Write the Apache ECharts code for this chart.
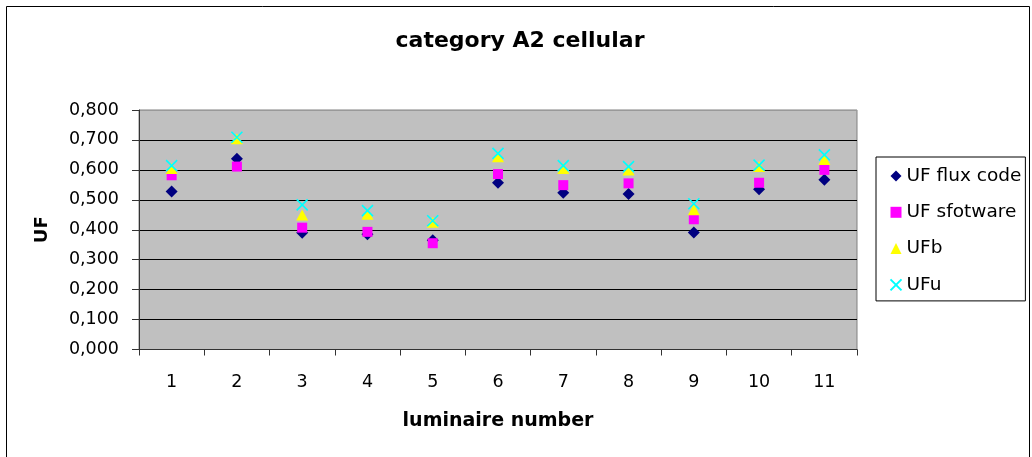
<!DOCTYPE html>
<html>
<head>
<meta charset="utf-8">
<script src="https://cdn.jsdelivr.net/npm/echarts@6/dist/echarts.min.js"></script>
<style>
  html, body { margin: 0; padding: 0; background: #fff; }
  #chart { width: 1032px; height: 457px; }
</style>
</head>
<body>
<div id="chart"></div>
<script>
// Luminaire numbers on the category axis
const luminaires = ['1', '2', '3', '4', '5', '6', '7', '8', '9', '10', '11'];

// Utilisation factor per luminaire, one list per method
const ufFluxCode = [0.528, 0.637, 0.390, 0.385, 0.365, 0.557, 0.524, 0.519, 0.391, 0.535, 0.567];
const ufSoftware = [0.582, 0.611, 0.407, 0.393, 0.355, 0.586, 0.549, 0.555, 0.435, 0.557, 0.600];
const ufB        = [0.605, 0.704, 0.449, 0.452, 0.425, 0.644, 0.605, 0.600, 0.467, 0.611, 0.635];
const ufU        = [0.614, 0.709, 0.483, 0.464, 0.430, 0.655, 0.614, 0.611, 0.487, 0.616, 0.650];

const seriesNames = ['UF flux code', 'UF sfotware', 'UFb', 'UFu'];

// Value axis range and step
const yMin = 0, yMax = 0.8, yStep = 0.1;

const FONT = 'DejaVu Sans';
const chart = echarts.init(document.getElementById('chart'), null, { renderer: 'canvas' });

const crossPath = 'path://M0,0L10,10M10,0L0,10';

chart.setOption({
  animation: false,
  backgroundColor: '#ffffff',
  title: {
    text: 'category A2 cellular',
    left: 520,
    top: 30,
    textAlign: 'center',
    padding: 0,
    textStyle: { fontFamily: FONT, fontWeight: 'bold', fontSize: 22, color: '#000' }
  },
  graphic: [{
    type: 'rect',
    shape: { x: 6.5, y: 6.5, width: 1023, height: 470 },
    style: { fill: 'none', stroke: '#000', lineWidth: 1 },
    silent: true,
    z: 100
  }],
  legend: {
    orient: 'vertical',
    left: 876,
    top: 157,
    padding: [9, 4, 6, 12],
    itemGap: 16.3,
    itemWidth: 11,
    itemHeight: 11,
    backgroundColor: '#fff',
    borderColor: '#000',
    borderWidth: 1,
    textStyle: { fontFamily: FONT, fontSize: 18.5, color: '#000', lineHeight: 20 },
    data: seriesNames
  },
  grid: {
    left: 139,
    right: 175,
    top: 110,
    bottom: 107.5,
    show: true,
    backgroundColor: '#C0C0C0',
    borderColor: '#808080',
    borderWidth: 1
  },
  xAxis: {
    type: 'category',
    data: luminaires,
    boundaryGap: true,
    name: 'luminaire number',
    nameLocation: 'middle',
    nameGap: 62,
    nameTextStyle: { fontFamily: FONT, fontWeight: 'bold', fontSize: 19, color: '#000' },
    axisLine: { lineStyle: { color: '#333', width: 1 } },
    axisTick: { show: true, length: 6, inside: false, lineStyle: { color: '#333' } },
    axisLabel: { margin: 24, fontFamily: FONT, fontSize: 17.5, color: '#000' },
    splitLine: { show: false }
  },
  yAxis: {
    type: 'value',
    min: yMin,
    max: yMax,
    interval: yStep,
    name: 'UF',
    nameLocation: 'middle',
    nameGap: 88,
    nameRotate: 90,
    nameTextStyle: { fontFamily: FONT, fontWeight: 'bold', fontSize: 18, color: '#000' },
    axisLine: { show: true, lineStyle: { color: '#333', width: 1 } },
    axisTick: { show: true, length: 7, inside: false, lineStyle: { color: '#333' } },
    axisLabel: {
      margin: 20,
      fontFamily: FONT,
      fontSize: 17.5,
      color: '#000',
      formatter: v => v.toFixed(3).replace('.', ',')
    },
    splitLine: {
      show: true,
      lineStyle: { color: ['#000', '#000', '#000', '#000', '#000', '#000', '#000', '#000', '#999'], width: 1 }
    }
  },
  series: [
    {
      name: seriesNames[0], type: 'scatter', data: ufFluxCode,
      symbol: 'diamond', symbolSize: 12,
      itemStyle: { color: '#000080', opacity: 1 }
    },
    {
      name: seriesNames[1], type: 'scatter', data: ufSoftware,
      symbol: 'rect', symbolSize: 10,
      itemStyle: { color: '#FF00FF', opacity: 1 }
    },
    {
      name: seriesNames[2], type: 'scatter', data: ufB,
      symbol: 'triangle', symbolSize: [12, 11],
      itemStyle: { color: '#FFFF00', opacity: 1 }
    },
    {
      name: seriesNames[3], type: 'scatter', data: ufU,
      symbol: crossPath, symbolSize: 11,
      itemStyle: { color: 'none', borderColor: '#00FFFF', borderWidth: 1.6, opacity: 1 }
    }
  ]
});
</script>
</body>
</html>
